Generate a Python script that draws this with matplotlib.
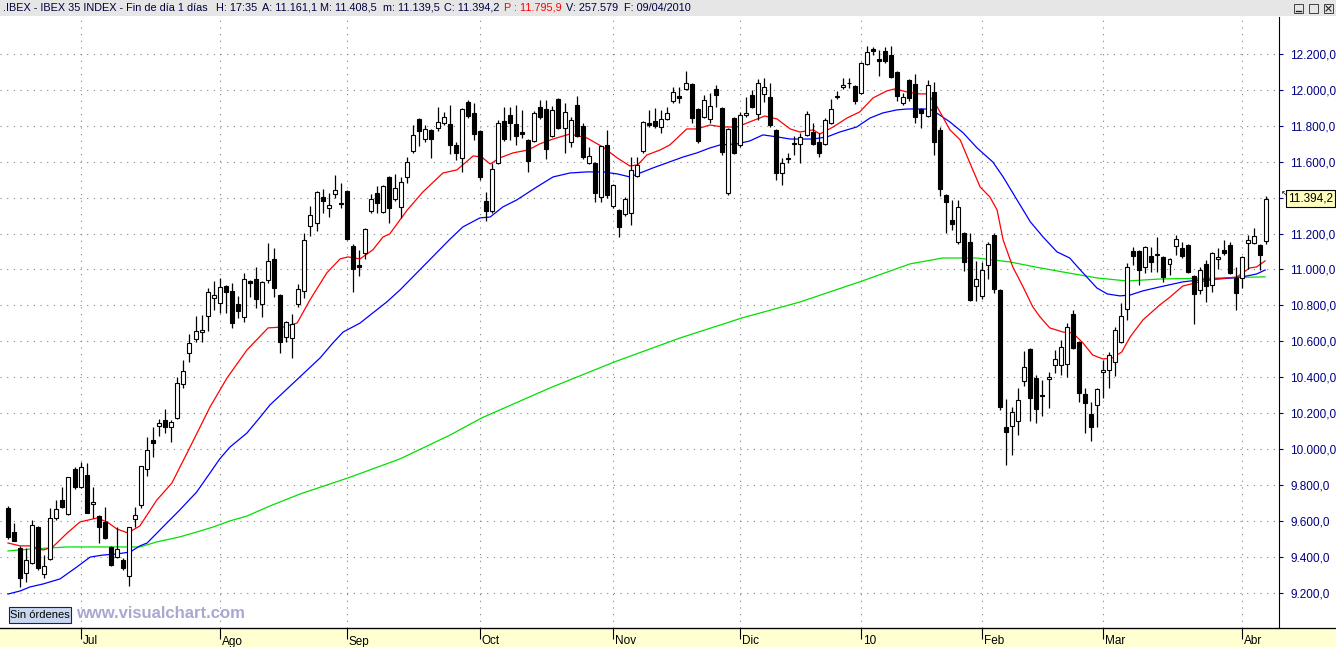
import matplotlib.pyplot as plt
from matplotlib.patches import Rectangle
from matplotlib.lines import Line2D
from matplotlib.transforms import blended_transform_factory

plt.rcParams['font.family'] = ['Liberation Sans', 'DejaVu Sans']

# daily OHLC, IBEX 35, 15/06/2009 - 09/04/2010
opens = [9673, 9539, 9450, 9311, 9367, 9567, 9306, 9389, 9617, 9717,
         9640, 9890, 9790, 9857, 9695, 9628, 9595, 9456, 9400, 9384,
         9295, 9612, 9690, 9890, 10051, 10129, 10163, 10124, 10174, 10363,
         10536, 10613, 10652, 10741, 10842, 10814, 10908, 10881, 10808, 10736,
         10936, 10947, 10808, 10942, 11059, 10858, 10625, 10619, 10808, 10881,
         11242, 11259, 11404, 11342, 11420, 11368, 11437, 11131, 11025, 11092,
         11326, 11426, 11320, 11515, 11393, 11348, 11515, 11660, 11838, 11726,
         11777, 11788, 11816, 11810, 11693, 11621, 11932, 11871, 11771, 11381,
         11326, 11593, 11827, 11860, 11810, 11765, 11721, 11715, 11905, 11893,
         11743, 11949, 11788, 11710, 11916, 11799, 11593, 11593, 11404, 11693,
         11354, 11331, 11309, 11315, 11521, 11660, 11816, 11827, 11793, 11838,
         11938, 11966, 12005, 12033, 11893, 11849, 11838, 12005, 11899, 11426,
         11843, 11693, 11860, 11971, 11866, 11977, 11960, 11777, 11537, 11621,
         11700, 11699, 11749, 11765, 11710, 11699, 11816, 11960, 12016, 12035,
         12021, 11982, 12144, 12227, 12172, 12216, 12194, 12099, 11927, 12055,
         12033, 11893, 11854, 11988, 11777, 11415, 11276, 11153, 11203, 11153,
         10908, 10853, 11025, 11192, 10886, 10124, 10129, 10157, 10380, 10558,
         10396, 10302, 10393, 10469, 10469, 10474, 10753, 10597, 10307, 10196,
         10246, 10432, 10441, 10485, 10597, 10780, 11103, 11103, 11014, 11075,
         11078, 11070, 11031, 11131, 11120, 11137, 10964, 10886, 11031, 10914,
         11059, 11109, 11137, 10953, 10953, 11148, 11148, 11137, 11161.1]
highs = [9684, 9590, 9462, 9450, 9606, 9575, 9411, 9673, 9717, 9790,
         9845, 9900, 9929, 9923, 9790, 9635, 9679, 9462, 9567, 9395,
         9567, 9679, 9907, 10068, 10124, 10168, 10224, 10160, 10402, 10497,
         10641, 10741, 10747, 10897, 10936, 10953, 10915, 10925, 10853, 10981,
         10942, 11014, 10936, 11148, 11120, 10865, 10712, 10753, 10920, 11203,
         11354, 11437, 11448, 11426, 11526, 11482, 11443, 11142, 11109, 11230,
         11420, 11465, 11470, 11521, 11532, 11515, 11626, 11804, 11843, 11804,
         11782, 11905, 11877, 11916, 11710, 11898, 11943, 11927, 11777, 11432,
         11593, 11832, 11905, 11905, 11916, 11888, 11726, 11882, 11943, 11943,
         11910, 11955, 11927, 11849, 11966, 11816, 11682, 11598, 11688, 11777,
         11476, 11337, 11404, 11626, 11626, 11827, 11888, 11899, 11888, 11905,
         12016, 12016, 12105, 12038, 11898, 11971, 11982, 12027, 11905, 11787,
         11849, 11877, 11960, 11999, 12060, 12066, 12038, 11782, 11621, 11649,
         11743, 11760, 11882, 11816, 11760, 11843, 11949, 11994, 12066, 12066,
         12027, 12155, 12244, 12238, 12222, 12238, 12244, 12105, 11982, 12060,
         12088, 11898, 12055, 12044, 11793, 11420, 11387, 11387, 11209, 11203,
         11048, 11042, 11153, 11203, 10892, 10280, 10235, 10341, 10547, 10563,
         10413, 10385, 10430, 10552, 10608, 10702, 10775, 10603, 10341, 10263,
         10341, 10497, 10541, 10680, 10814, 11036, 11125, 11109, 11131, 11125,
         11181, 11076, 11064, 11192, 11153, 11142, 10970, 11014, 11053, 11098,
         11120, 11164, 11153, 11014, 11076, 11192, 11231, 11142, 11408.5]
lows = [9500, 9489, 9233, 9261, 9360, 9328, 9283, 9384, 9606, 9673,
        9634, 9780, 9785, 9645, 9617, 9478, 9500, 9350, 9395, 9328,
        9239, 9567, 9673, 9851, 9957, 10074, 10090, 10040, 10168, 10341,
        10485, 10597, 10597, 10658, 10775, 10758, 10758, 10675, 10730, 10708,
        10847, 10786, 10736, 10925, 10847, 10536, 10597, 10508, 10792, 10842,
        11187, 11214, 11315, 11292, 11398, 11342, 11165, 10875, 10964, 11059,
        11315, 11315, 11315, 11259, 11381, 11287, 11482, 11649, 11688, 11710,
        11621, 11771, 11805, 11643, 11610, 11543, 11843, 11721, 11498, 11270,
        11315, 11587, 11715, 11721, 11693, 11730, 11543, 11710, 11838, 11615,
        11738, 11780, 11649, 11682, 11738, 11615, 11587, 11376, 11376, 11400,
        11340, 11181, 11300, 11248, 11515, 11649, 11793, 11788, 11760, 11830,
        11927, 11927, 12000, 11816, 11704, 11843, 11816, 11905, 11637, 11415,
        11640, 11682, 11850, 11899, 11832, 11932, 11795, 11498, 11470, 11593,
        11637, 11593, 11743, 11690, 11626, 11690, 11810, 11950, 12005, 12010,
        11921, 11977, 12138, 12194, 12077, 12150, 12065, 11938, 11916, 11940,
        11816, 11788, 11849, 11637, 11409, 11203, 11220, 11142, 10992, 10825,
        10825, 10836, 10947, 10869, 10218, 9912, 9968, 10079, 10352, 10157,
        10146, 10185, 10229, 10424, 10413, 10402, 10555, 10263, 10090, 10046,
        10124, 10285, 10341, 10408, 10590, 10719, 11025, 10914, 10981, 10986,
        10986, 10931, 10970, 11081, 11064, 10980, 10697, 10864, 10819, 10875,
        11003, 11080, 10975, 10775, 10897, 11003, 11140, 10997, 11139.5]
closes = [9512, 9489, 9283, 9384, 9578, 9339, 9350, 9617, 9667, 9679,
          9845, 9790, 9901, 9645, 9706, 9567, 9506, 9356, 9445, 9339,
          9567, 9634, 9907, 9996, 10035, 10146, 10124, 10152, 10369, 10435,
          10591, 10658, 10664, 10875, 10858, 10903, 10875, 10702, 10769, 10947,
          10925, 10836, 10931, 11048, 10897, 10597, 10708, 10697, 10892, 11164,
          11303, 11432, 11381, 11359, 11443, 11362, 11170, 11003, 11014, 11226,
          11393, 11370, 11465, 11342, 11454, 11487, 11598, 11749, 11771, 11782,
          11726, 11821, 11849, 11693, 11649, 11893, 11854, 11754, 11515, 11326,
          11560, 11816, 11726, 11816, 11743, 11754, 11604, 11871, 11849, 11671,
          11888, 11788, 11877, 11832, 11743, 11626, 11632, 11426, 11688, 11415,
          11470, 11237, 11393, 11554, 11582, 11821, 11804, 11799, 11838, 11871,
          11988, 11955, 12038, 11843, 11715, 11943, 11910, 11971, 11654, 11782,
          11649, 11860, 11871, 11905, 12038, 12016, 11804, 11537, 11593, 11615,
          11706, 11738, 11866, 11699, 11649, 11832, 11893, 11966, 12027, 12040,
          11938, 12149, 12211, 12216, 12161, 12161, 12072, 11966, 11960, 11955,
          11849, 11871, 12027, 11710, 11448, 11376, 11253, 11348, 11042, 10830,
          10947, 10997, 11142, 10892, 10235, 10096, 10207, 10274, 10458, 10285,
          10224, 10296, 10399, 10502, 10569, 10680, 10563, 10313, 10257, 10124,
          10335, 10438, 10524, 10664, 10741, 11014, 11075, 10997, 11125, 11042,
          11084, 10958, 11059, 11170, 11075, 10986, 10864, 10997, 10908, 11092,
          11070, 11092, 10981, 10869, 11070, 11164, 11187, 11081, 11394.2]

# moving averages (candle index, value)
red_x = [0, 2, 3.6, 5.8, 7.4, 9.8, 11.9, 14.7, 16.4, 18, 19.8, 21.8, 24.6, 27.1, 30.1, 33.4,
         36.2, 39.5, 43, 45.5, 47.8, 49.9, 52.7, 54.9, 56.2, 58.2, 60.3, 62, 63.1, 66, 68.6,
         71.9, 74.2, 76.9, 78.3, 79.7, 81.3, 83.5, 86, 87.9, 90.1, 92.9, 95.7, 98.3, 100.7,
         102.8, 104.1, 105.6, 107.8, 109.4, 112.2, 113.9, 116, 118.2, 120.5, 122.6, 125.1,
         127.1, 129.3, 130.9, 133.1, 134.2, 136.4, 138.7, 140.8, 143, 145.3, 146.6, 148.6,
         150.7, 152.1, 153.6, 155.7, 157.4, 159, 160.7, 162.3, 163.5, 164.5, 166.1, 167.8,
         169.4, 170.6, 172.2, 174.4, 176, 177.7, 179.3, 181, 182.6, 184.1, 185.5, 187.6,
         190.4, 192.1, 194.2, 197, 199.8, 203.1, 205.3, 206.4, 207.8]
red_y = [9478, 9462, 9462, 9439, 9456, 9534, 9595, 9617, 9595, 9556, 9534, 9573, 9717, 9812,
         10012, 10235, 10396, 10552, 10675, 10680, 10702, 10830, 10981, 11059, 11070, 11059,
         11109, 11181, 11198, 11331, 11432, 11537, 11554, 11632, 11626, 11587, 11621, 11649,
         11665, 11699, 11726, 11754, 11732, 11682, 11621, 11576, 11582, 11637, 11665, 11693,
         11782, 11782, 11804, 11793, 11793, 11821, 11854, 11838, 11782, 11765, 11777, 11754,
         11793, 11843, 11877, 11955, 11994, 12005, 11988, 11977, 11977, 11905, 11777, 11721,
         11593, 11459, 11404, 11331, 11164, 11014, 10903, 10792, 10736, 10675, 10652, 10647,
         10591, 10524, 10502, 10508, 10541, 10625, 10719, 10803, 10847, 10908, 10931, 10947,
         10958, 11009, 11014, 11048]

blue_x = [0, 2, 3.6, 5.8, 8.6, 11.4, 13.6, 15.7, 18, 20.2, 21.8, 23, 25.6, 28.4, 31.2, 33.4,
          35, 36.7, 39.5, 41.7, 43.3, 51.6, 53.7, 55.4, 58.2, 60.3, 62.6, 64.8, 73.1, 75.2,
          78, 79.7, 81.8, 84.1, 87.4, 90.1, 92.9, 95.7, 98.3, 100.7, 102.8, 104.5, 106.6,
          108.9, 111.6, 113.9, 116, 117.7, 120.5, 122.6, 124.8, 127.1, 129.3, 133.1, 135.4,
          137.5, 140.3, 142.5, 144.6, 146.9, 148.6, 152.4, 154, 155.7, 157.9, 160.2, 162.8,
          164.5, 166.8, 169, 171.1, 173.4, 175.5, 177.7, 180, 181.7, 183.8, 185.5, 187.6,
          190.4, 194.2, 197, 199.8, 202.5, 204.8, 206.4, 207.8]
blue_y = [9194, 9211, 9233, 9250, 9278, 9345, 9400, 9411, 9417, 9428, 9462, 9478, 9567, 9662,
          9762, 9868, 9946, 10012, 10090, 10179, 10246, 10508, 10591, 10652, 10702, 10758,
          10819, 10886, 11170, 11237, 11287, 11292, 11348, 11387, 11459, 11515, 11537, 11543,
          11543, 11532, 11515, 11537, 11565, 11593, 11626, 11649, 11676, 11693, 11699, 11715,
          11749, 11738, 11726, 11726, 11738, 11765, 11793, 11843, 11871, 11888, 11893, 11893,
          11860, 11821, 11760, 11676, 11598, 11515, 11387, 11265, 11181, 11098, 11064, 10981,
          10897, 10864, 10853, 10858, 10881, 10903, 10931, 10942, 10947, 10953, 10964, 10975,
          10997]

green_x = [0, 4.1, 9.8, 15.2, 21.8, 24.6, 28.4, 31.2, 33.9, 36.7, 39.5, 43.3, 48.3, 56.2,
           64.8, 73.1, 78.3, 89.6, 100.2, 111.1, 121.3, 130.9, 141.2, 149.1, 154.5, 160.2,
           165.6, 170.6, 174.4, 180, 185, 190.4, 199.8, 207.8]
green_y = [9434, 9445, 9456, 9456, 9456, 9484, 9512, 9539, 9567, 9601, 9628, 9684, 9751, 9840,
           9946, 10079, 10174, 10341, 10485, 10619, 10730, 10819, 10936, 11031, 11064, 11064,
           11042, 11009, 10986, 10953, 10936, 10947, 10953, 10959]

months = ['Jul', 'Ago', 'Sep', 'Oct', 'Nov', 'Dic', '10', 'Feb', 'Mar', 'Abr']
month_pos = [12, 35, 56, 78, 100, 121, 141, 161, 181, 204]
price_ticks = list(range(9200, 12201, 200))
last_close = 11394.2


def fmt_price(v):
    return f"{v:,.1f}".replace(',', 'X').replace('.', ',').replace('X', '.')


W, H = 1336, 647
fig = plt.figure(figsize=(W / 100, H / 100), dpi=100)
fig.patch.set_facecolor('white')
ax = fig.add_axes([0, 19 / H, 1279 / W, 611 / H])
ax.set_xlim(-1.32, 210.1)
ax.set_ylim(9005, 12405)
ax.set_facecolor('white')

# dotted grid
for p in price_ticks:
    ax.axhline(p, color='#808080', lw=0.8, ls=(0, (1, 5)), zorder=0)
for m in month_pos:
    ax.axvline(m, color='#808080', lw=0.8, ls=(0, (1, 5)), zorder=0)

# moving averages
ax.plot(green_x, green_y, color='#00E000', lw=0.9, zorder=1)
ax.plot(blue_x, blue_y, color='#0000FF', lw=0.9, zorder=1)
ax.plot(red_x, red_y, color='#FF0000', lw=0.9, zorder=1)

# candles
idx = list(range(len(closes)))
ax.vlines(idx, lows, highs, color='black', lw=0.9, zorder=3)
for i in idx:
    o, c = opens[i], closes[i]
    up = c >= o
    ax.add_patch(Rectangle((i - 0.33, min(o, c)), 0.66, max(abs(c - o), 3),
                           facecolor='white' if up else 'black',
                           edgecolor='black', lw=0.8, zorder=4))

# axes look
for s in ['left', 'top']:
    ax.spines[s].set_visible(False)
ax.spines['right'].set_color('black')
ax.spines['bottom'].set_color('black')

ax.yaxis.tick_right()
ax.set_yticks(price_ticks)
ax.set_yticklabels(['' if p == 11400 else fmt_price(p) for p in price_ticks])
ax.tick_params(axis='y', direction='out', length=3, width=0.8, colors='#000080',
               labelsize=8.5, pad=5)

ax.set_xticks(month_pos)
ax.tick_params(axis='x', direction='out', length=8, width=0.8, color='black',
               labelbottom=False)

# bottom date band
fig.add_artist(Rectangle((0, 0), 1, 18.5 / H, transform=fig.transFigure,
                         facecolor='#FFFFD2', edgecolor='none', zorder=-1))
fig.add_artist(Line2D([0, 1], [19 / H, 19 / H], transform=fig.transFigure,
                      color='black', lw=0.9))
tr = blended_transform_factory(ax.transData, fig.transFigure)
for name, m in zip(months, month_pos):
    ax.text(m + 0.3, 5.5 / H, name, transform=tr, ha='left', va='center',
            fontsize=8.5, color='black', clip_on=False)

# last price box
tr2 = blended_transform_factory(fig.transFigure, ax.transData)
ax.text(1288 / W, last_close, fmt_price(last_close), transform=tr2, ha='left',
        va='center', fontsize=8.5, color='black', clip_on=False,
        bbox=dict(boxstyle='square,pad=0.2', facecolor='#FFFFC0',
                  edgecolor='black', lw=0.8))
ax.text(1281 / W, last_close + 25, '\u2196', transform=tr2, ha='left', va='center',
        fontsize=6, color='black', clip_on=False, family='DejaVu Sans')

# header bar
fig.add_artist(Rectangle((0, 1 - 16 / H), 1, 16 / H, transform=fig.transFigure,
                         facecolor='#E6E6E6', edgecolor='none'))
header = [(3, '.IBEX - IBEX 35 INDEX - Fin de día 1 días', '#000040'),
          (216, 'H: 17:35', '#000040'),
          (262, 'A: 11.161,1', '#000040'),
          (320, 'M: 11.408,5', '#000040'),
          (383, 'm: 11.139,5', '#000040'),
          (444, 'C: 11.394,2', '#000040'),
          (504, 'P : 11.795,9', '#FF0000'),
          (566, 'V: 257.579', '#000040'),
          (624, 'F: 09/04/2010', '#000040')]
for x, s, col in header:
    fig.text(x / W, 1 - 8 / H, s, ha='left', va='center', fontsize=7.8, color=col)

# window buttons, top right
for bx in [1294, 1309, 1324]:
    fig.add_artist(Rectangle((bx / W, 1 - 13 / H), 9 / W, 9 / H, transform=fig.transFigure,
                             facecolor='none', edgecolor='#404040', lw=0.7))
fig.add_artist(Line2D([1296 / W, 1301 / W], [1 - 11 / H, 1 - 11 / H],
                      transform=fig.transFigure, color='#202020', lw=1))
fig.add_artist(Line2D([1326 / W, 1331 / W], [1 - 11 / H, 1 - 6 / H],
                      transform=fig.transFigure, color='#202020', lw=0.8))
fig.add_artist(Line2D([1326 / W, 1331 / W], [1 - 6 / H, 1 - 11 / H],
                      transform=fig.transFigure, color='#202020', lw=0.8))

# order box and watermark
fig.add_artist(Rectangle((9 / W, (H - 623) / H), 62 / W, 16 / H, transform=fig.transFigure,
                         facecolor='#C8D8F0', edgecolor='#202040', lw=0.8))
fig.text(40 / W, (H - 615) / H, 'Sin órdenes', ha='center', va='center', fontsize=8,
         color='black')
fig.text(76 / W, (H - 614) / H, 'www.visualchart.com', ha='left', va='center',
         fontsize=12, fontweight='bold', color='#A8A8D0')

fig.savefig('out.png', dpi=100)
